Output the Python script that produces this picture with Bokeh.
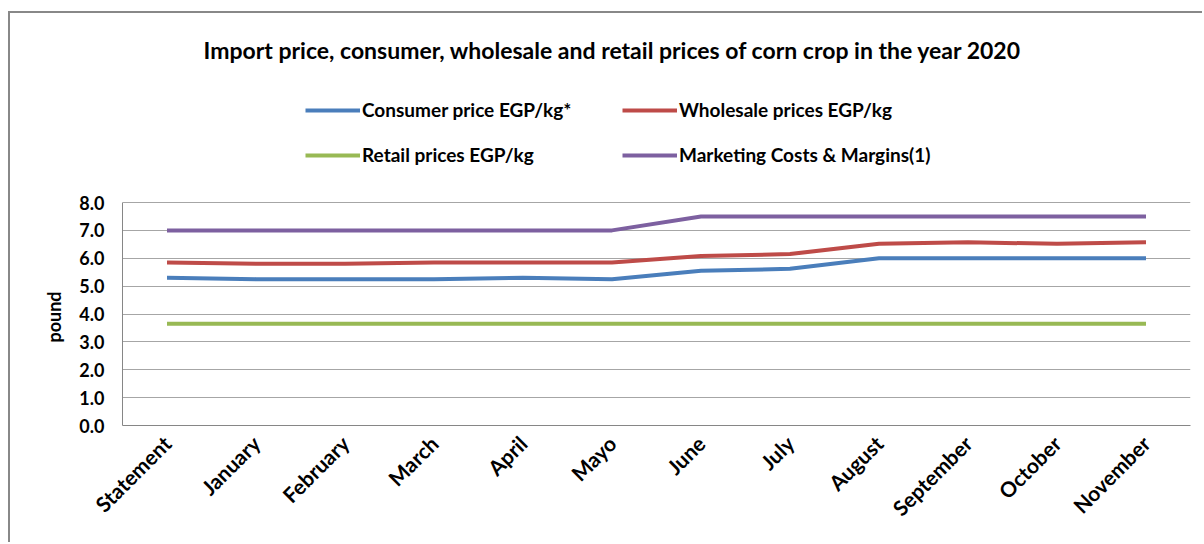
from bokeh.plotting import figure
from bokeh.models import FactorRange, Range1d, FixedTicker, PrintfTickFormatter, Legend, LegendItem, Title
from bokeh.embed import file_html
from bokeh.resources import INLINE

categories = ["Statement", "January", "February", "March", "April", "Mayo",
              "June", "July", "August", "September", "October", "November"]
consumer = [5.30, 5.25, 5.25, 5.25, 5.30, 5.25, 5.55, 5.62, 6.00, 6.00, 6.00, 6.00]
wholesale = [5.85, 5.80, 5.80, 5.85, 5.85, 5.85, 6.08, 6.15, 6.52, 6.57, 6.52, 6.57]
retail = [3.65] * 12
marketing = [7.00, 7.00, 7.00, 7.00, 7.00, 7.00, 7.50, 7.50, 7.50, 7.50, 7.50, 7.50]
y_ticks = [0, 1, 2, 3, 4, 5, 6, 7, 8]

names = ["Consumer price EGP/kg*", "Wholesale prices EGP/kg",
         "Retail prices EGP/kg", "Marketing Costs & Margins(1)"]
colors = ["#4a7ebb", "#be4b48", "#98b954", "#7d60a0"]
series = [consumer, wholesale, retail, marketing]

FONT = "Lato"

# frame spans from the legend area down to 0; the value axis occupies its lower 223 px
FRAME_H = 345
AXIS_H = 223
y_top = y_ticks[-1] * FRAME_H / AXIS_H

p = figure(width=1194, height=531, output_backend="svg", toolbar_location=None,
           x_range=FactorRange(factors=categories, range_padding=0),
           y_range=Range1d(0, y_top),
           min_border_left=112, min_border_right=14, min_border_top=67, min_border_bottom=119,
           title="Import price, consumer, wholesale and retail prices of corn crop in the year 2020")

p.title.text_font = FONT
p.title.text_font_size = "23px"
p.title.text_font_style = "bold"
p.title.text_color = "#000000"
p.title.align = "left"
p.title.offset = 81
p.title.standoff = 33

p.outline_line_color = None
p.background_fill_color = "white"
p.border_fill_color = "white"

renderers = []
for vals, c in zip(series, colors):
    r = p.line(categories, vals, line_color=c, line_width=4)
    renderers.append(r)

p.yaxis.ticker = FixedTicker(ticks=y_ticks)
p.yaxis.bounds = (y_ticks[0], y_ticks[-1])
p.yaxis.formatter = PrintfTickFormatter(format="%.1f")
for ax in (p.xaxis, p.yaxis):
    ax.major_label_text_font = FONT
    ax.major_label_text_font_style = "bold"
    ax.major_label_text_color = "#000000"
    ax.axis_line_color = "#868686"
    ax.major_tick_line_color = None
    ax.minor_tick_line_color = None
p.yaxis.major_label_text_font_size = "18px"
p.xaxis.major_label_text_font_size = "21px"
p.yaxis.major_label_standoff = 12
p.xaxis.major_label_standoff = 8
p.xaxis.major_label_orientation = 0.785398

# y-axis title, centred on the 0..8 value span
ytitle = Title(text="pound", text_font=FONT, text_font_style="bold",
               text_font_size="18px", text_color="#000000",
               align="left", offset=83, standoff=24)
p.add_layout(ytitle, "left")

p.xgrid.grid_line_color = None
p.ygrid.grid_line_color = "#a6a6a6"
p.ygrid.grid_line_width = 1

def make_legend(items, loc):
    return Legend(items=items, location=loc, orientation="horizontal",
                  label_text_font=FONT, label_text_font_style="bold",
                  label_text_font_size="19px", label_text_color="#000000",
                  glyph_width=55, glyph_height=22, label_height=22, label_width=255,
                  label_standoff=2, spacing=5, padding=0, margin=0,
                  border_line_color=None, background_fill_alpha=0)

lg1 = make_legend([LegendItem(label=names[0], renderers=[renderers[0]]),
                   LegendItem(label=names[1], renderers=[renderers[1]])], (183, 304))
lg2 = make_legend([LegendItem(label=names[2], renderers=[renderers[2]]),
                   LegendItem(label=names[3], renderers=[renderers[3]])], (183, 259))
p.add_layout(lg1, "center")
p.add_layout(lg2, "center")

p.styles = {"border-left": "2px solid #888888", "border-top": "2px solid #888888",
            "margin-left": "8px", "margin-top": "11px"}

open("out.html", "w").write(file_html(p, INLINE))
